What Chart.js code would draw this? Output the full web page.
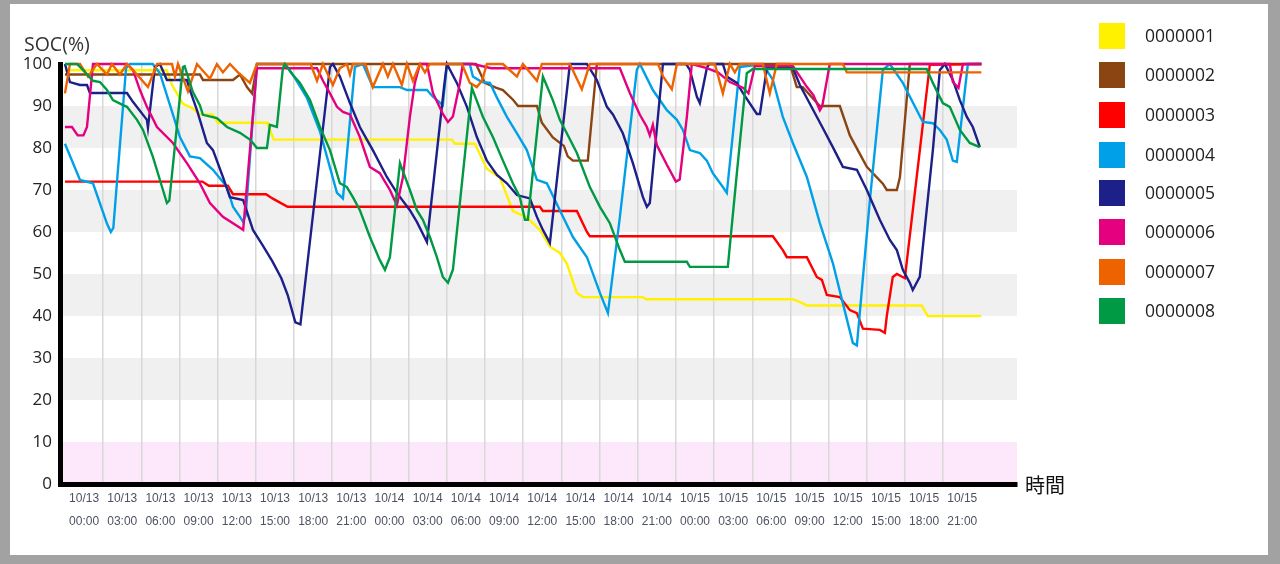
<!DOCTYPE html>
<html><head><meta charset="utf-8">
<script src="https://cdn.jsdelivr.net/npm/chart.js@4.4.1/dist/chart.umd.min.js"></script>
<style>
html,body{margin:0;padding:0;width:1280px;height:564px;overflow:hidden;background:#a2a2a2;}
#frame{position:absolute;left:10px;top:4px;width:1258px;height:551px;background:#fff;}
#c{position:absolute;left:0;top:0;}
#legend{position:absolute;left:1099px;top:0;width:170px;height:340px;}
.item{position:absolute;left:0;width:170px;height:26px;}
.sw{position:absolute;left:0;top:0;width:26px;height:26px;}
.lb{position:absolute;left:46px;top:-1px;line-height:26px;font-size:17.5px;font-family:"Open Sans","Noto Sans",sans-serif;color:#222;}
</style></head>
<body>
<div id="frame"></div>
<canvas id="c" width="1280" height="564"></canvas>
<div id="legend"></div>
<script>
// ---- data ----
const seriesNames = ['0000001','0000002','0000003','0000004','0000005','0000006','0000007','0000008'];
const tickLabels = ['10/13 00:00','10/13 03:00','10/13 06:00','10/13 09:00','10/13 12:00','10/13 15:00','10/13 18:00','10/13 21:00',
  '10/14 00:00','10/14 03:00','10/14 06:00','10/14 09:00','10/14 12:00','10/14 15:00','10/14 18:00','10/14 21:00',
  '10/15 00:00','10/15 03:00','10/15 06:00','10/15 09:00','10/15 12:00','10/15 15:00','10/15 18:00','10/15 21:00'];
const yTicks = [0,10,20,30,40,50,60,70,80,90,100];
const bandsGrey = [[20,30],[40,50],[60,70],[80,90]];
const bandsPink = [[0,10]];
// [hours since 10/13 00:00, SOC %]
const s1 = [[0,98.5],[8.0,98.5],[8.41,95],[9.27,90.5],[10.0,89.5],[10.6,88],[11.6,88],[12.0,86],[15.9,86],[16.4,82],[30.4,82],[30.64,81],[32.21,81],[33.15,75],[34.17,73],[35.19,65],[36.29,63.5],[37.31,60.5],[38.1,56.5],[38.88,55],[39.43,52.5],[40.22,45.5],[40.69,44.5],[45.41,44.5],[45.64,44],[57.19,44],[57.97,43],[58.29,42.5],[67.32,42.5],[67.79,40],[72,40]];
const s2 = [[0,97.5],[10.6,97.5],[10.84,96.2],[13.2,96.2],[13.75,97.5],[14.3,94.5],[14.7,93],[15.1,100],[32.29,100],[32.99,95.5],[33.9,94.3],[34.41,93.8],[35.2,91.5],[35.6,90],[37.08,90],[37.47,86],[38.33,82.5],[39.2,80.5],[39.5,78],[39.91,77],[41.08,77],[41.79,100],[56.95,100],[57.5,94.5],[57.97,94.5],[59.31,90],[60.88,90],[61.67,83],[63,75.5],[64.26,71.5],[64.57,70],[65.36,70],[65.6,73],[66.38,100],[72,100]];
const s3 = [[0,72],[10.8,72],[11.3,71],[12.8,71],[13.2,69],[15.8,69],[16.3,68],[16.9,67],[17.5,66],[37.31,66],[37.55,65],[40.22,65],[41.01,60],[41.24,59],[55.62,59],[56.4,55.7],[56.72,54],[58.29,54],[59.07,49.3],[59.47,48.6],[59.86,45],[60.88,44.5],[61.67,41.4],[62.22,40.7],[62.69,37],[64.02,36.7],[64.42,36],[64.57,40],[65.04,49.3],[65.36,50],[65.99,49],[67.95,99.8],[72,100]];
const s4 = [[0,81],[1.18,72.4],[2.2,71.6],[3.3,62],[3.6,60],[3.8,61],[4.8,99],[5.1,100],[6.9,100],[7.46,97.8],[8.48,88],[9.03,82.6],[9.82,78],[10.6,77.6],[11.63,74.8],[12.73,70.7],[13.2,66],[13.75,63.6],[14.0,62.4],[14.2,64],[15.08,100],[17.3,100],[18.0,97],[19.0,92],[20.03,84],[21.37,69.3],[21.84,68],[22.78,99.3],[23.41,100],[24.19,94.5],[26.32,94.5],[26.87,93.8],[28.44,93.8],[28.91,92.2],[29.69,90.2],[30.01,100],[31.81,100],[32.05,97],[32.76,95.7],[33.39,95.5],[33.94,92],[34.72,87.4],[35.51,83.5],[36.29,79.5],[37.08,72.4],[37.86,71.6],[38.88,65.2],[39.91,58.8],[41.01,54],[42.03,45.5],[42.66,40.7],[43.6,63.6],[44.93,98.6],[45.17,100],[46.19,93.8],[47.29,89],[48.08,86.7],[48.55,84.3],[49.1,79.5],[49.88,78.8],[50.43,77],[50.9,74],[51.69,70.7],[52,69.3],[53.02,99.3],[54.83,100],[55.62,96.2],[56.4,87.4],[57.19,81.2],[58.29,73.1],[59.31,62.1],[60.33,52.6],[61.12,43],[61.9,33.6],[62.22,33],[63.24,67.6],[64.26,98.6],[64.81,100],[65.83,95.5],[66.93,89],[67.4,86.2],[68.19,85.9],[68.74,84.3],[69.28,82],[69.76,77],[70.07,76.7],[70.94,100],[72,100]];
const s5 = [[0,100],[0.39,95.7],[1.18,95],[1.73,95],[1.96,93.1],[4.87,93.1],[5.34,91],[6.44,86.7],[6.52,84.8],[7.07,99.3],[7.46,100],[8.01,96.2],[9.58,96.2],[9.82,93.8],[10.37,89],[11.15,81.2],[11.63,79.5],[12.41,73.1],[12.96,68.3],[14.0,67.6],[14.77,60.5],[15.5,57],[16.3,53],[17.0,49],[17.5,45],[18.1,38.5],[18.5,38],[20.82,99.3],[21.05,100],[21.6,97],[22.39,90.7],[23.17,85],[23.72,82],[24.19,79.5],[25.29,73.1],[26.08,69.3],[27.1,65.2],[27.65,62.4],[28.44,57.6],[29.8,95],[30.01,100],[30.79,95.5],[31.58,89.8],[32.36,82.6],[33.15,77],[33.94,73.6],[34.72,71.6],[35.51,68.8],[36.53,68],[37.08,63.6],[37.55,60.5],[38.1,57.4],[39.67,100],[41.01,100],[41.79,96.2],[42.58,89.8],[43.05,88],[43.83,83.5],[44.62,76.4],[45.41,68.3],[45.72,66],[45.95,66.9],[46.98,100],[48.8,100],[49.1,98.6],[49.65,92.2],[49.88,90.7],[50.43,99],[50.6,100],[51.69,100],[52,97],[52.79,95.5],[53.26,93.1],[54.36,88.1],[54.6,88.1],[55.15,99],[57.2,99],[57.74,95],[59.5,85],[60.33,80.2],[61.12,75.5],[62.22,74.8],[63,70],[64.02,62.9],[64.81,58.1],[65.36,55.7],[65.83,51],[66.38,47.9],[66.61,46.2],[67.16,49.3],[68.19,79.5],[68.74,98.6],[69.13,100],[69.76,96.2],[70.31,91.4],[70.86,87.4],[71.33,85],[71.88,80.2]];
const s6 = [[0,85],[0.55,85],[1.0,83],[1.45,83],[1.73,85],[2.2,100],[4.87,100],[5.34,98.6],[5.89,93.8],[6.44,89.8],[7.23,85],[8.48,81.2],[9.58,76.4],[10.6,71.6],[11.39,66.9],[12.41,63.6],[13.75,61],[14.0,60.5],[15.08,99],[19.8,99],[20.27,96],[20.82,93],[21.37,89.8],[21.84,88.6],[22.39,88],[23.17,82.6],[23.96,75.5],[24.74,74],[25.53,70],[26.08,66.4],[26.55,73],[27.1,87.4],[27.49,95.5],[27.89,100],[28.44,100],[28.91,93.1],[29.69,88.1],[30.09,86.2],[30.48,87.5],[31.03,95.5],[31.26,100],[32.05,100],[33.5,99],[43.6,99],[44.38,93.1],[45.17,87.9],[45.72,85],[45.95,83],[46.19,85.5],[46.5,80.7],[47.29,76],[48.0,72],[48.3,72.5],[48.86,87.4],[49.25,100],[50.43,99],[51.3,98],[52.24,95.7],[53.3,94.3],[53.7,93],[54.2,99.5],[57.2,99.5],[58.3,94.5],[58.8,92.6],[59.31,89],[59.5,90],[60.09,100],[69.52,100],[69.76,95.7],[70.2,94.3],[70.55,100],[72,100]];
const s7 = [[0,93],[0.39,100],[1.18,100],[1.81,97],[2.51,100],[3.3,97.5],[3.69,100],[4.32,97.5],[4.87,100],[5.5,98],[6.52,94.5],[7.23,100],[8.41,100],[8.64,97],[8.88,100],[9.66,93.5],[10.37,100],[11.39,96.5],[11.94,100],[12.41,98],[12.96,100],[13.59,98],[14.53,95.5],[15.08,100],[19.3,100],[19.8,96],[20.27,100],[21.05,95],[21.6,99],[22.15,100],[22.39,97.5],[22.62,100],[23.6,100],[24.19,94.5],[24.98,100],[25.37,97],[25.77,100],[26.47,95],[26.87,100],[27.34,96],[27.89,100],[28.28,98],[28.67,100],[31.19,100],[31.81,95.5],[32.36,94.5],[32.76,96],[33.15,100],[34.41,100],[35.51,97],[35.98,100],[37.08,96],[37.47,100],[39.67,100],[40.61,94],[41.24,100],[46.6,100],[47.0,97],[47.68,94],[48.08,100],[51.06,100],[51.69,93],[52.24,100],[52.63,98],[53.02,100],[54.83,100],[55.38,93],[55.93,100],[61.12,100],[61.43,98],[72,98]];
const s8 = [[0,100],[0.94,100],[1.41,98.6],[2.2,96],[2.75,95.7],[3.3,93.8],[3.77,91.4],[4.56,90.2],[4.87,89.8],[5.66,86.7],[6.13,84.3],[6.91,77.9],[7.7,70],[8.01,66.9],[8.2,67.5],[9.27,99.3],[9.4,99.5],[10.05,93.3],[10.6,90.2],[10.84,87.9],[11.94,87.1],[12.73,85],[13.75,83.6],[14.53,82],[14.77,81.2],[15.08,80],[15.87,80],[16.1,85.5],[16.65,85],[17.12,99],[17.28,100],[17.91,97.4],[18.46,95.5],[19.25,91.4],[20.03,85],[20.82,79.5],[21.6,71.6],[22.15,70.7],[22.62,68.3],[23.17,65.2],[23.96,58.8],[24.74,53.3],[25.14,51],[25.53,54],[26.32,76.4],[27.1,70],[27.65,65.2],[28.12,62.9],[28.67,58.8],[29.22,54],[29.69,49.3],[30.09,47.9],[30.48,51],[31.97,94.3],[32.84,87.4],[33.62,82.6],[34.41,77],[35.19,71.6],[35.74,68.3],[36.14,62.9],[36.37,62.9],[37.55,97],[38.33,91.4],[38.88,86.7],[39.43,83.5],[40.22,78.8],[41.24,70.7],[42.03,66],[42.81,62.1],[43.6,55.7],[43.99,52.9],[48.86,52.9],[49.1,51.7],[52.08,51.7],[52.79,74],[53.57,97.8],[54.05,98.8],[67.71,98.8],[68.19,95.5],[68.97,90.7],[69.52,89.8],[70.31,84.3],[71.09,81.2],[71.88,80.2]];
const seriesData = [s1,s2,s3,s4,s5,s6,s7,s8];

// ---- styles ----
const seriesColors = ['#fff100','#8a4513','#ff0000','#00a0e9','#1d2088','#e4007f','#ee6300','#009944'];
const X_MIN = -0.39, X_MAX = 74.8;

// legend (HTML)
const legend = document.getElementById('legend');
const legendTops = [23,62,102,142,180,219,259,298];
seriesNames.forEach((n,i)=>{
  const d = document.createElement('div'); d.className='item'; d.style.top = legendTops[i]+'px';
  d.innerHTML = '<div class="sw" style="background:'+seriesColors[i]+'"></div><div class="lb">'+n+'</div>';
  legend.appendChild(d);
});

const bandPlugin = {
  id:'bands',
  beforeDraw(chart){
    const {ctx, chartArea:a, scales:{y}} = chart;
    ctx.save();
    const fill = (arr,col)=>arr.forEach(([lo,hi])=>{
      const t = y.getPixelForValue(hi), b = y.getPixelForValue(lo);
      ctx.fillStyle = col; ctx.fillRect(a.left, t, a.right-a.left, b-t);
    });
    fill(bandsGrey,'#f0f0f0');
    fill(bandsPink,'#fde8fb');
    ctx.restore();
  },
  afterDraw(chart){
    const {ctx, chartArea:a} = chart;
    ctx.save();
    ctx.fillStyle = '#333';
    ctx.font = '19.5px "Open Sans","Noto Sans",sans-serif';
    ctx.textBaseline = 'middle'; ctx.textAlign = 'left';
    ctx.fillText('SOC(%)', a.left - 36, a.top - 19);
    ctx.fillStyle = '#111';
    ctx.font = '20px "Noto Sans CJK JP",sans-serif';
    ctx.fillText('時間', a.right + 8, a.bottom + 1);
    ctx.restore();
  }
};

const xTickVals = [];
for (let i=0;i<24;i++){ xTickVals.push(1.5+3*i); if(i>0) xTickVals.push(3*i); }
xTickVals.sort((a,b)=>a-b);

new Chart(document.getElementById('c'), {
  type:'line',
  data:{
    datasets: seriesData.map((s,i)=>({
      label: seriesNames[i],
      data: s.map(([x,y])=>({x,y})),
      borderColor: seriesColors[i],
      backgroundColor: seriesColors[i],
      borderWidth: 2.4,
      pointRadius: 0,
      tension: 0,
      fill: false,
      clip: false,
      order: 8 - i
    }))
  },
  options:{
    responsive:false,
    animation:false,
    devicePixelRatio:1,
    layout:{padding:{left:0,right:263,top:64,bottom:0}},
    plugins:{legend:{display:false},tooltip:{enabled:false}},
    scales:{
      x:{
        type:'linear', min:X_MIN, max:X_MAX,
        afterBuildTicks:(sc)=>{ sc.ticks = xTickVals.map(v=>({value:v})); },
        afterFit:(sc)=>{ sc.height = 80; },
        grid:{
          drawTicks:false,
          color:(c)=> (c.tick && c.tick.value % 3 === 0) ? '#d8d8d8' : 'rgba(0,0,0,0)',
          lineWidth:1.5
        },
        border:{display:true,color:'#000',width:5},
        ticks:{
          autoSkip:false, maxRotation:0, minRotation:0, padding:3,
          color:'#4d5260',
          font:{family:'"Liberation Sans",Arial,sans-serif',size:12,lineHeight:1.9},
          callback:(v)=>{ const i=(v-1.5)/3; return (Number.isInteger(i)&&i>=0&&i<tickLabels.length) ? tickLabels[i].split(' ') : ''; }
        }
      },
      y:{
        type:'linear', min:0, max:100,
        afterBuildTicks:(sc)=>{ sc.ticks = yTicks.map(v=>({value:v})); },
        afterFit:(sc)=>{ sc.width = 60; },
        grid:{drawTicks:false,color:'rgba(0,0,0,0)'},
        border:{display:true,color:'#000',width:5},
        ticks:{padding:8,color:'#222',font:{family:'"Open Sans","Noto Sans",sans-serif',size:17}}
      }
    }
  },
  plugins:[bandPlugin]
});
</script>
</body></html>
